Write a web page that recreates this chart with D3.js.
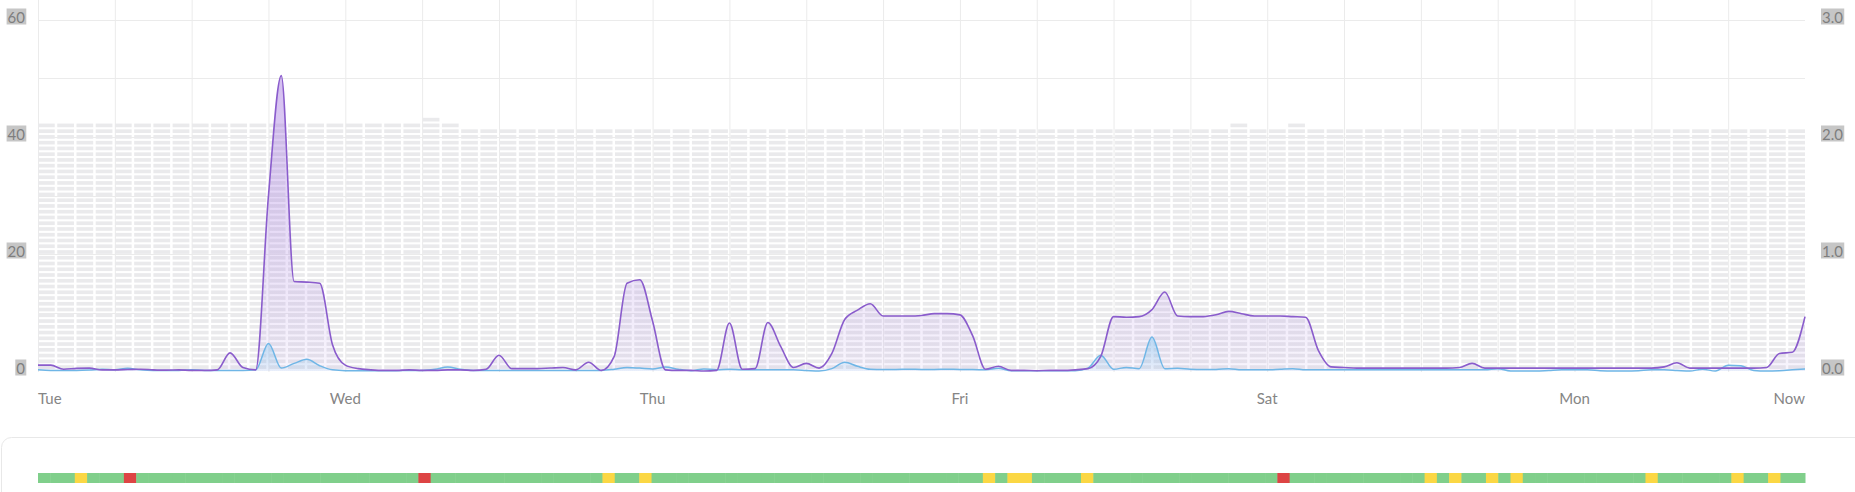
<!DOCTYPE html>
<html>
<head>
<meta charset="utf-8">
<style>
  body { margin: 0; background: #fff; font-family: Lato, "Open Sans", sans-serif; }
  svg { display: block; }
</style>
<script src="https://cdn.jsdelivr.net/npm/d3@7"></script>
</head>
<body>
<div class="chart"></div>
<script>
// hourly samples, Tue 00:00 .. Now
var purple = [
  1.0, 1.0, 0.3, 0.45, 0.5, 0.2, 0.2, 0.25, 0.3, 0.2,
  0.15, 0.2, 0.1, 0.1, 0.2, 3.1, 0.6, 0.2, 30, 50.5,
  15.3, 15.2, 15.0, 4.5, 1.0, 0.4, 0.2, 0.1, 0.1, 0.2,
  0.1, 0.1, 0.2, 0.2, 0.1, 0.3, 2.7, 0.4, 0.4, 0.4,
  0.5, 0.6, 0.2, 1.5, 0.1, 2.5, 15.0, 15.6, 8.5, 0.2,
  0.1, 0.1, 0.0, 0.1, 8.2, 0.3, 0.4, 8.3, 4.2, 0.6,
  1.3, 0.5, 3.0, 8.8, 10.4, 11.5, 9.4, 9.4, 9.4, 9.5,
  9.8, 9.8, 9.6, 6.0, 0.3, 0.8, 0.1, 0.1, 0.05, 0.1,
  0.1, 0.2, 0.4, 2.5, 9.3, 9.2, 9.3, 10.5, 13.5, 9.4,
  9.3, 9.3, 9.6, 10.2, 9.8, 9.4, 9.4, 9.4, 9.3, 9.2,
  3.5, 0.7, 0.6, 0.5, 0.5, 0.5, 0.5, 0.5, 0.5, 0.5,
  0.5, 0.6, 1.3, 0.5, 0.5, 0.5, 0.5, 0.5, 0.5, 0.5,
  0.5, 0.5, 0.5, 0.5, 0.5, 0.5, 0.5, 0.7, 1.4, 0.5,
  0.5, 0.5, 0.5, 0.5, 0.5, 0.6, 3.0, 3.2, 9.3
];

// right axis series
var blue = [
  0.01, 0.005, 0.005, 0.005, 0.008, 0.015, 0.01, 0.023, 0.01, 0.005,
  0.005, 0.005, 0.01, 0.005, 0.005, 0.005, 0.005, 0.01, 0.235, 0.025,
  0.065, 0.1, 0.045, 0.01, 0.003, 0.003, 0.003, 0.003, 0.003, 0.005,
  0.005, 0.015, 0.035, 0.015, 0.005, 0.005, 0.005, 0.005, 0.005, 0.005,
  0.005, 0.005, 0.005, 0.005, 0.005, 0.015, 0.03, 0.025, 0.018, 0.035,
  0.015, 0.003, 0.018, 0.01, 0.015, 0.01, 0.01, 0.01, 0.01, 0.01,
  0.005, 0, 0.02, 0.075, 0.04, 0.015, 0.013, 0.013, 0.015, 0.013,
  0.013, 0.015, 0.013, 0.013, 0.01, 0.023, 0.003, 0.003, 0.003, 0.003,
  0.003, 0.003, 0.025, 0.135, 0.015, 0.03, 0.02, 0.29, 0.02, 0.023,
  0.015, 0.013, 0.013, 0.02, 0.01, 0.01, 0.01, 0.015, 0.02, 0.01,
  0.01, 0.01, 0.01, 0.01, 0.01, 0.01, 0.01, 0.01, 0.01, 0.01,
  0.01, 0.01, 0.01, 0.01, 0.02, 0, 0, 0, 0.005, 0.01,
  0.01, 0.01, 0.003, 0, 0, 0.003, 0.01, 0.01, 0.005, 0,
  0.015, 0, 0.05, 0.045, 0.005, 0, 0.003, 0.01, 0.018
];

// background capacity columns (cells per 90 min column)
var cellCounts = [
  43, 43, 43, 43, 43, 43, 43, 43, 43, 43, 43, 43, 43, 43, 43, 43, 43, 43, 43, 43,
  44, 43,
  42, 42, 42, 42, 42, 42, 42, 42, 42, 42, 42, 42, 42, 42, 42, 42, 42, 42, 42, 42,
  42, 42, 42, 42, 42, 42, 42, 42, 42, 42, 42, 42, 42, 42, 42, 42, 42, 42, 42, 42,
  43, 42, 42, 43,
  42, 42, 42, 42, 42, 42, 42, 42, 42, 42, 42, 42, 42, 42, 42, 42, 42, 42, 42, 42,
  42, 42, 42, 42, 42, 42
];

var dayTicks = [0, 24, 48, 72, 96, 120, 138];
var dayLabels = ["Tue", "Wed", "Thu", "Fri", "Sat", "Mon", "Now"];
var leftTicks = [0, 20, 40, 60];
var rightTicks = [0, 1, 2, 3];

// status bar: 144 hourly slots, incidents only
var statusSlots = 144;
var warnSlots = [3, 46, 49, 77, 79, 80, 85, 113, 115, 118, 120, 131, 138, 141];
var errorSlots = [7, 31, 101];

var width = 1855, height = 492;
var x0 = 38, x1 = 1805;

var svg = d3.select(".chart").append("svg").attr("width", width).attr("height", height);

var x = d3.scaleLinear().domain([0, purple.length - 1]).range([x0, x1]);
var y = d3.scaleLinear().domain([0, 60]).range([371, 20]);
var y2 = d3.scaleLinear().domain([0, 3]).range([371, 20]);

// grid
svg.append("g").selectAll("line")
  .data(d3.range(0, purple.length - 1, 6))
  .enter().append("line")
  .attr("x1", function(d) { return x(d) + 0.5; })
  .attr("x2", function(d) { return x(d) + 0.5; })
  .attr("y1", 0).attr("y2", y(0) + 1)
  .attr("stroke", "#ebebeb");

svg.append("g").selectAll("line")
  .data(y.ticks(6).filter(function(d) { return d > 0; }))
  .enter().append("line")
  .attr("x1", x0).attr("x2", x1)
  .attr("y1", function(d) { return Math.round(y(d)) + 0.5; })
  .attr("y2", function(d) { return Math.round(y(d)) + 0.5; })
  .attr("stroke", "#ebebeb");

// background cells
var colX = d3.scaleBand().domain(d3.range(cellCounts.length)).range([x0, x1]).paddingInner(0.13).paddingOuter(0);
var rowY = d3.scaleLinear().domain([0, 61]).range([y(0), y(60)]);
var cells = [];
cellCounts.forEach(function(n, i) {
  for (var k = 0; k < n; k++) cells.push({col: i, row: k});
});
var pitch = rowY(0) - rowY(1);
svg.append("g").selectAll("rect")
  .data(cells)
  .enter().append("rect")
  .attr("x", function(d) { return colX(d.col); })
  .attr("width", colX.bandwidth())
  .attr("y", function(d) { return rowY(d.row + 1); })
  .attr("height", pitch - 2.1)
  .attr("fill", "#eaeaec");

// gradients
var defs = svg.append("defs");
var gp = defs.append("linearGradient").attr("id", "gp")
  .attr("gradientUnits", "userSpaceOnUse")
  .attr("x1", 0).attr("x2", 0).attr("y1", y(60)).attr("y2", y(0));
gp.append("stop").attr("offset", 0).attr("stop-color", "#9a66dc").attr("stop-opacity", 0.5);
gp.append("stop").attr("offset", 1).attr("stop-color", "#a37ae0").attr("stop-opacity", 0.08);

var gb = defs.append("linearGradient").attr("id", "gb")
  .attr("gradientUnits", "userSpaceOnUse")
  .attr("x1", 0).attr("x2", 0).attr("y1", y(6)).attr("y2", y(0));
gb.append("stop").attr("offset", 0).attr("stop-color", "#7cc0ec").attr("stop-opacity", 0.5);
gb.append("stop").attr("offset", 1).attr("stop-color", "#7cc0ec").attr("stop-opacity", 0.12);

var purpleArea = d3.area()
  .x(function(d, i) { return x(i); })
  .y0(y(0))
  .y1(function(d) { return y(d); })
  .curve(d3.curveMonotoneX);
var purpleLine = d3.line()
  .x(function(d, i) { return x(i); })
  .y(function(d) { return y(d); })
  .curve(d3.curveMonotoneX);
var blueArea = d3.area()
  .x(function(d, i) { return x(i); })
  .y0(y2(0))
  .y1(function(d) { return y2(d); })
  .curve(d3.curveMonotoneX);
var blueLine = d3.line()
  .x(function(d, i) { return x(i); })
  .y(function(d) { return y2(d); })
  .curve(d3.curveMonotoneX);

svg.append("path").datum(purple).attr("d", purpleArea).attr("fill", "url(#gp)");
svg.append("path").datum(blue).attr("d", blueArea).attr("fill", "url(#gb)");
svg.append("path").datum(blue).attr("d", blueLine)
  .attr("fill", "none").attr("stroke", "#6fb6e6").attr("stroke-width", 1.5);
svg.append("path").datum(purple).attr("d", purpleLine)
  .attr("fill", "none").attr("stroke", "#8a5ccc").attr("stroke-width", 1.6);

// axis labels with grey boxes
function boxedLabel(g, tx, ty, text, anchor) {
  var t = g.append("text")
    .attr("x", tx).attr("y", ty)
    .attr("text-anchor", anchor)
    .attr("font-size", 15)
    .attr("fill", "#7e7e7e")
    .text(text);
  var b = t.node().getBBox();
  g.insert("rect", "text")
    .attr("x", b.x - 1).attr("y", b.y + 1)
    .attr("width", b.width + 2).attr("height", b.height - 2)
    .attr("fill", "#c6c6c6");
}

var leftG = svg.append("g");
leftTicks.forEach(function(d) {
  var g = leftG.append("g");
  boxedLabel(g, 25, y(d) + 2.5, d3.format("d")(d), "end");
});
var rightG = svg.append("g");
rightTicks.forEach(function(d) {
  var g = rightG.append("g");
  boxedLabel(g, 1822, y2(d) + 2.5, d3.format(".1f")(d), "start");
});

svg.append("g").selectAll("text")
  .data(dayTicks)
  .enter().append("text")
  .attr("x", function(d) { return x(d); })
  .attr("y", 404)
  .attr("text-anchor", function(d, i) { return i === 0 ? "start" : (i === dayTicks.length - 1 ? "end" : "middle"); })
  .attr("font-size", 15)
  .attr("fill", "#858585")
  .text(function(d, i) { return dayLabels[i]; });

// bottom card
svg.append("rect")
  .attr("x", 1.5).attr("y", 437.5)
  .attr("width", 1900).attr("height", 200)
  .attr("rx", 10)
  .attr("fill", "none")
  .attr("stroke", "#e8e8e8");

// status bar
var sx = d3.scaleBand().domain(d3.range(statusSlots)).range([x0, x1]);
var slotStates = d3.range(statusSlots).map(function(i) {
  if (errorSlots.indexOf(i) >= 0) return "error";
  if (warnSlots.indexOf(i) >= 0) return "warn";
  return "ok";
});
var stateColor = {ok: "#80cf8b", warn: "#fbd744", error: "#dd4444"};
svg.append("g").selectAll("rect")
  .data(slotStates)
  .enter().append("rect")
  .attr("x", function(d, i) { return sx(i); })
  .attr("width", sx.bandwidth() + 0.5)
  .attr("y", 473)
  .attr("height", 10)
  .attr("fill", function(d) { return stateColor[d]; });
</script>
</body>
</html>
